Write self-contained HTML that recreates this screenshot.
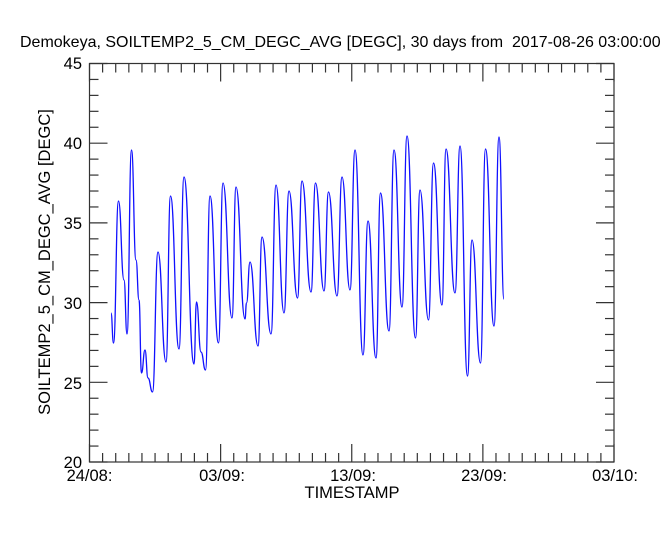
<!DOCTYPE html>
<html><head><meta charset="utf-8"><style>
html,body{margin:0;padding:0;background:#fff;}
svg{display:block;font-family:"Liberation Sans",sans-serif;}
</style></head><body>
<svg id="s" width="666" height="533" viewBox="0 0 666 533" xmlns="http://www.w3.org/2000/svg">
<rect width="666" height="533" fill="#fff"/>
<text x="20" y="47" font-size="16" fill="#000" style="white-space:pre">Demokeya, SOILTEMP2_5_CM_DEGC_AVG [DEGC], 30 days from  2017-08-26 03:00:00</text>
<g id="ax" stroke="#333" stroke-width="1.2" fill="none"></g>
<rect x="89.5" y="63.5" width="524.5" height="398.5" fill="none" stroke="#333" stroke-width="1.2"/>
<g font-size="16.5" fill="#000" text-anchor="end">
<text x="82" y="69">45</text><text x="82" y="149">40</text><text x="82" y="229">35</text>
<text x="82" y="309">30</text><text x="82" y="389">25</text><text x="82" y="468">20</text>
</g>
<g font-size="16.5" fill="#000" text-anchor="middle">
<text x="89.5" y="481">24/08:</text><text x="222" y="481">03/09:</text><text x="353" y="481">13/09:</text>
<text x="484" y="481">23/09:</text><text x="615" y="481">03/10:</text>
<text x="352" y="498">TIMESTAMP</text>
</g>
<text font-size="16.5" fill="#000" text-anchor="middle" transform="translate(50,262) rotate(-90)">SOILTEMP2_5_CM_DEGC_AVG [DEGC]</text>
<path id="d" fill="none" stroke="#1010ff" stroke-width="1.3"/>
</svg>
<script>
var ax=document.getElementById('ax'),h='';
var L=89.5,R=614,T=63.5,B=462;
for(var i=0;i<=40;i++){var x=L+(R-L)*i/40,len=(i%10==0)?18:9;
h+='<line x1="'+x+'" y1="'+B+'" x2="'+x+'" y2="'+(B-len)+'"/>';
h+='<line x1="'+x+'" y1="'+T+'" x2="'+x+'" y2="'+(T+len)+'"/>';}
for(var j=0;j<=25;j++){var y=B-(B-T)*j/25,len=(j%5==0)?18:9;
h+='<line x1="'+L+'" y1="'+y+'" x2="'+(L+len)+'" y2="'+y+'"/>';
h+='<line x1="'+R+'" y1="'+y+'" x2="'+(R-len)+'" y2="'+y+'"/>';}
ax.innerHTML=h;
var p=[[111,313],[113.5,343],[118.5,201],[124,280],[127,334],[131.5,150],[136,260],[139,300],[141.5,373],[145,350],[148,378],[152.5,392],[158,252],[166,362],[170.5,196],[179,349],[184,177],[194,364],[196.5,302],[201,352],[205.5,370],[210,196],[218.5,343],[223,183],[232,318],[236,187],[245,319],[246.5,303],[250,262],[258,346],[262,237],[271,334],[276,185],[284,313],[289,191],[297.5,298],[302,181],[311,292],[315.5,183],[324,291],[328.5,192],[337,296],[342,177],[350,290],[355,150],[363,355],[368,221],[376,358],[380.5,193],[389,331],[394,150],[402,307],[407,136],[415.5,338],[420,190],[428.5,320],[433.5,163],[442,305],[446,149],[455,293],[460,146],[467.5,376],[472,240],[480.5,363],[485.5,149],[494,326],[499,137],[504,299]];
var d='M'+p[0][0]+','+p[0][1];
for(var k=1;k<p.length;k++){var a=p[k-1],b=p[k],dx=(b[0]-a[0])/2;
d+=' C'+(a[0]+dx)+','+a[1]+' '+(b[0]-dx)+','+b[1]+' '+b[0]+','+b[1];}
document.getElementById('d').setAttribute('d',d);
</script>
</body></html>
